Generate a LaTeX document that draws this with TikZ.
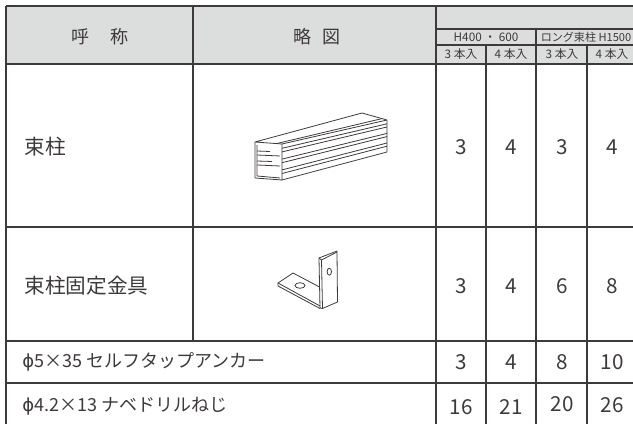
\documentclass[tikz,border=0pt]{standalone}
\usepackage{fontspec}
\setmainfont{Noto Sans CJK JP}
\newfontfamily\greekfont{DejaVu Sans}
\definecolor{rulegray}{HTML}{3E3A39}
\definecolor{headgray}{HTML}{DCDDDD}
\tikzset{every picture/.style={line width=0.75pt}}
\tikzset{
  rule/.style={draw=rulegray, line width=0.9pt},
  part/.style={draw=rulegray, line width=0.6pt, line join=round},
  headtxt/.style={font=\fontsize{13.5}{13.5}\selectfont, text=rulegray},
  subtxt/.style={font=\fontsize{8.8}{8.8}\selectfont, text=rulegray, inner sep=0pt},
  nametxt/.style={anchor=west, font=\fontsize{15.5}{15.5}\selectfont, text=rulegray, inner sep=0pt},
  itemtxt/.style={anchor=west, font=\fontsize{13.5}{13.5}\selectfont, text=rulegray, inner sep=0pt},
  numtxt/.style={font=\fontsize{15.5}{15.5}\selectfont, text=rulegray},
}
\newcommand{\phisign}{{\greekfont ϕ}}

\begin{document}
\begin{tikzpicture}[x=0.75pt,y=0.75pt,yscale=-1,xscale=1]
\useasboundingbox (0,0) rectangle (633,424);

%Shape: Rectangle [header fill]
\fill[headgray] (6,6) rectangle (640,64);

%Straight Lines [rows]
\draw[rule] (6,6) -- (640,6);
\draw[rule] (436,29) -- (640,29);
\draw[rule] (436,45) -- (640,45);
\draw[rule] (6,64) -- (640,64);
\draw[rule] (6,227) -- (640,227);
\draw[rule] (6,341) -- (640,341);
\draw[rule] (6,383) -- (640,383);
%Straight Lines [columns]
\draw[rule] (6,6) -- (6,426);
\draw[rule] (193,6) -- (193,341);
\draw[rule] (436,6) -- (436,426);
\draw[rule] (486,45) -- (486,426);
\draw[rule] (536,29) -- (536,426);
\draw[rule] (587,45) -- (587,426);

% Text Node
\node[headtxt] (callname) at (100,37) {呼\hspace{1.2em}称};
% Text Node
\node[headtxt] (sketch) at (317,37) {略\hspace{0.6em}図};
% Text Node
\node[subtxt] (shortset) at (486,37) {H400 ・ 600};
% Text Node
\node[subtxt, font=\fontsize{8.3}{8.3}\selectfont] (longset) at (586,37) {ロング束柱 H1500};
% Text Node
\node[subtxt] (packa) at (461,54) {3 本入};
\node[subtxt] (packb) at (511,54) {4 本入};
\node[subtxt] (packc) at (562,54) {3 本入};
\node[subtxt] (packd) at (612,54) {4 本入};

% Text Node
\node[nametxt] (post) at (24,147) {束柱};
\node[nametxt] (bracket) at (24,286) {束柱固定金具};
\node[itemtxt] (anchor) at (22,362) {\phisign 5×35 セルフタップアンカー};
\node[itemtxt] (screw) at (22,406) {\phisign 4.2×13 ナベドリルねじ};

% Text Node [counts]
\node[numtxt] (posta) at (461,147) {3};
\node[numtxt] (postb) at (511,147) {4};
\node[numtxt] (postc) at (562,147) {3};
\node[numtxt] (postd) at (612,147) {4};
\node[numtxt] (bracketa) at (461,286) {3};
\node[numtxt] (bracketb) at (511,286) {4};
\node[numtxt] (bracketc) at (562,286) {6};
\node[numtxt] (bracketd) at (612,286) {8};
\node[numtxt] (anchora) at (461,362) {3};
\node[numtxt] (anchorb) at (511,362) {4};
\node[numtxt] (anchorc) at (562,362) {8};
\node[numtxt] (anchord) at (612,362) {10};
\node[numtxt] (screwa) at (461,407) {16};
\node[numtxt] (screwb) at (511,407) {21};
\node[numtxt] (screwc) at (562,404) {20};
\node[numtxt] (screwd) at (612,405) {26};

%Shape: Square post
\draw[part] (255,142) -- (362,113) -- (387,120) -- (282,144) -- cycle;
\draw[part] (282,144) -- (282,180) -- (387,152) -- (387,120);
\draw[part] (255,142) -- (255,178) -- (282,180);
\draw[part] (276.6,143.6) -- (382,118.6);
%Straight Lines [grooves]
\draw[part] (282,148.3) -- (387,123.8);
\draw[part] (282,151.9) -- (387,127);
\draw[part] (282,159.1) -- (387,133.4);
\draw[part] (282,162.7) -- (387,136.6);
\draw[part] (282,169.9) -- (387,143);
\draw[part] (282,173.5) -- (387,146.2);
%Straight Lines [inside]
\draw[part] (257,145) -- (257,176) -- (280,178);
\draw[part] (257,151) -- (270,151.5);
\draw[part] (257,155) -- (280,156);
\draw[part] (257,161) -- (272,161.5);
\draw[part] (257,165) -- (280,166);

%Shape: L bracket
\draw[part] (319,258) -- (337,251) -- (337.5,302) -- (322.5,308.5) -- (320,308) -- cycle;
\draw[part] (319,258) -- (321.5,260) -- (337,252);
\draw[part] (321.5,260) -- (322.5,308.5);
\draw[part] (319.5,287) -- (293,273) -- (278,283) -- (320,306);
\draw[part] (278,283) -- (278,286) -- (320,308.5);
\draw[part] (329.3,271.7) ellipse (2.2 and 3.5);
\draw[part] (300,285.5) ellipse (5 and 2.8);

\end{tikzpicture}
\end{document}
